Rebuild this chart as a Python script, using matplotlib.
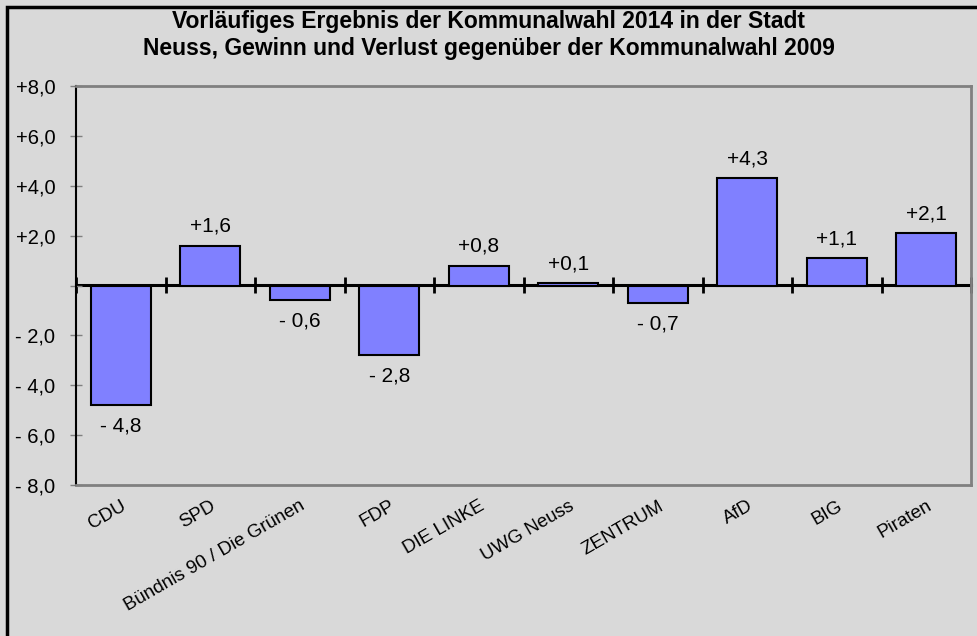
import matplotlib.pyplot as plt
import numpy as np

plt.rcParams['font.family'] = ['Liberation Sans', 'DejaVu Sans']

parteien = ["CDU", "SPD", "Bündnis 90 / Die Grünen", "FDP", "DIE LINKE",
            "UWG Neuss", "ZENTRUM", "AfD", "BIG", "Piraten"]
differenz = [-4.8, 1.6, -0.6, -2.8, 0.8, 0.1, -0.7, 4.3, 1.1, 2.1]
yticks = [-8, -6, -4, -2, 0, 2, 4, 6, 8]

titel = ("Vorläufiges Ergebnis der Kommunalwahl 2014 in der Stadt\n"
         "Neuss, Gewinn und Verlust gegenüber der Kommunalwahl 2009")

bg = "#D9D9D9"
grau = "#808080"


def fmt(v, tick=False):
    if tick and v == 0:
        return ""
    s = f"{abs(v):.1f}".replace(".", ",")
    return ("+" if v > 0 else "- ") + s


fig = plt.figure(figsize=(9.78, 6.36), dpi=100, facecolor=bg)
ax = fig.add_axes([76 / 978, 1 - 485 / 636, (971 - 76) / 978, (485 - 86) / 636])
ax.set_facecolor(bg)

x = np.arange(len(parteien))
ax.bar(x, differenz, width=0.67, color="#8080FF", edgecolor="black",
       linewidth=1.5, zorder=2)

for xi, v in zip(x, differenz):
    if v >= 0:
        ax.annotate(fmt(v), (xi, v), xytext=(0, 7), textcoords="offset points",
                    ha="center", va="bottom", fontsize=15)
    else:
        ax.annotate(fmt(v), (xi, v), xytext=(0, -8), textcoords="offset points",
                    ha="center", va="top", fontsize=15)

ax.set_xlim(-0.5, len(parteien) - 0.5)
ax.set_ylim(-8, 8)
ax.set_yticks(yticks)
ax.set_yticklabels([fmt(t, tick=True) for t in yticks], fontsize=14.5)
ax.tick_params(axis="y", direction="inout", length=8, width=1, color=grau, pad=11)

ax.set_xticks(x)
ax.set_xticklabels(parteien, rotation=30, ha="right", rotation_mode="anchor",
                   fontsize=13.5)
ax.tick_params(axis="x", length=0, pad=9)

for side in ["top", "right", "bottom"]:
    ax.spines[side].set_color(grau)
    ax.spines[side].set_linewidth(2)
ax.spines["left"].set_color("black")
ax.spines["left"].set_linewidth(1.5)

# Nulllinie mit Kategoriegrenzen
null = ax.secondary_xaxis(0.5)
null.set_xticks(np.arange(len(parteien) + 1) - 0.5)
null.set_xticklabels([])
null.tick_params(direction="inout", length=11, width=2, color="black")
for side in ["top", "bottom"]:
    null.spines[side].set_linewidth(2.2)
    null.spines[side].set_color("black")

fig.text(0.5, 1 - 35 / 636, titel, ha="center", va="center", fontsize=16.5,
         fontweight="bold", linespacing=1.2)

rand = plt.Rectangle((7 / 978, -0.01), 1, 1 - 7 / 636 + 0.01, transform=fig.transFigure,
                     fill=False, edgecolor="black", linewidth=2.5)
fig.patches.append(rand)

fig.savefig("out.png", dpi=100, facecolor=bg)
